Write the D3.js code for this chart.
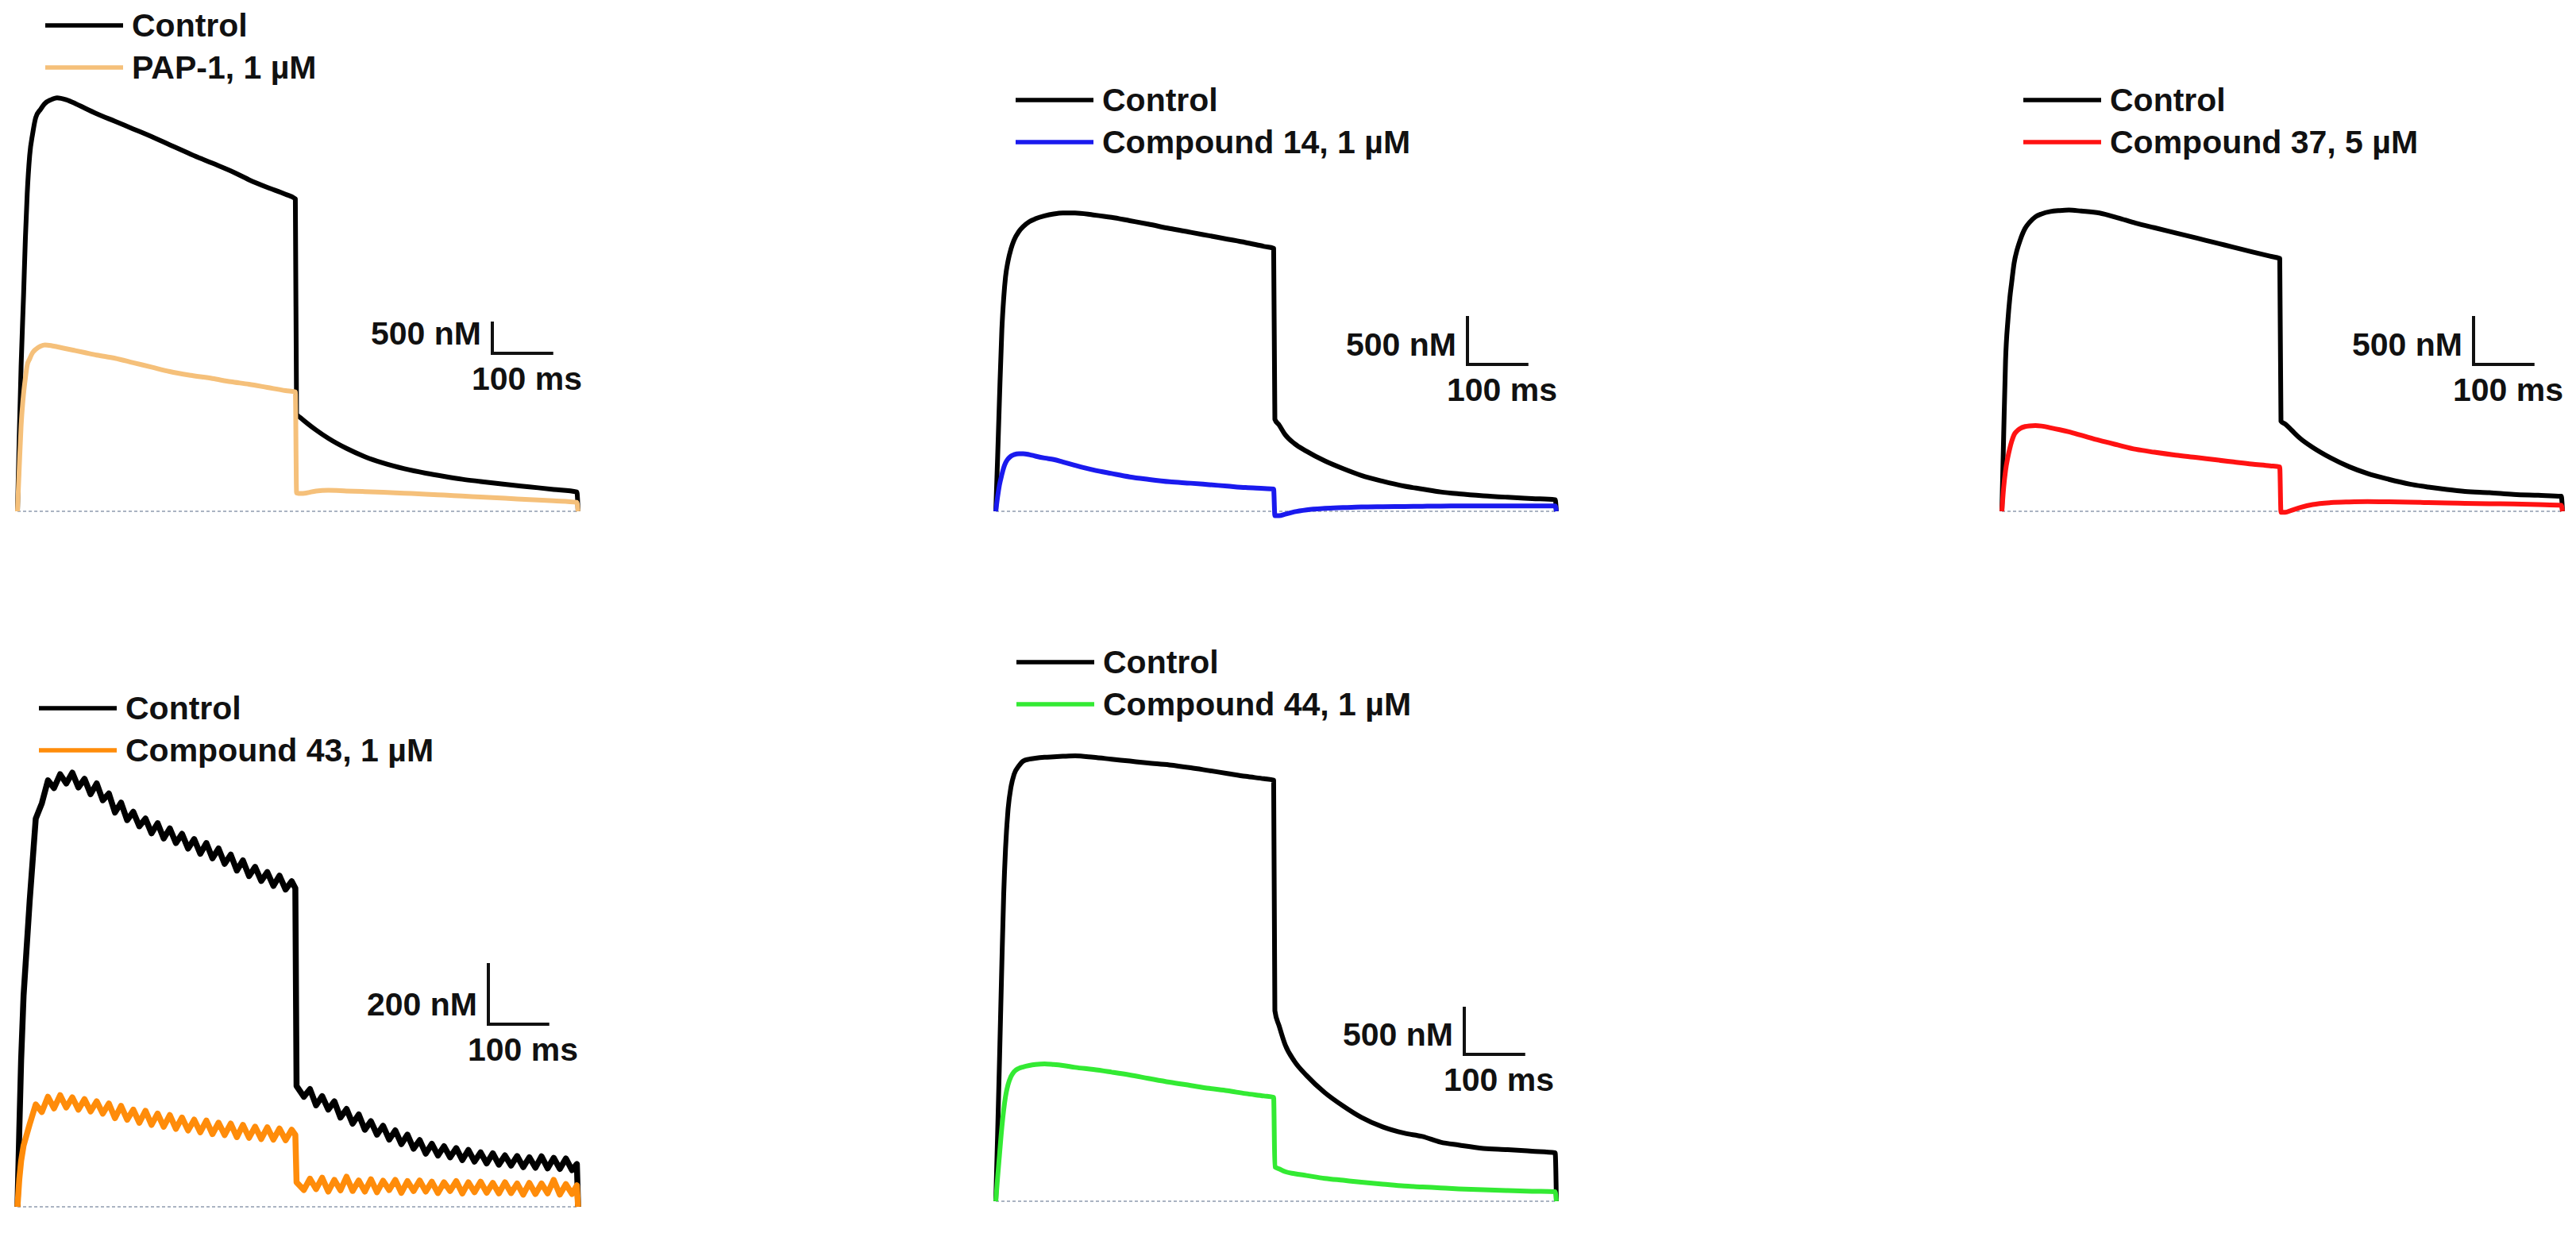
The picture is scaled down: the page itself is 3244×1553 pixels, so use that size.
<!DOCTYPE html>
<html>
<head>
<meta charset="utf-8" />
<title>Ca2+ traces</title>
<style>
* {
    padding: 0;
    margin: 0;
}
body {
    background: #fff;
}
#graph text {
    font-family: "Liberation Sans", Arial, sans-serif;
    font-weight: bold;
    font-size: 41px;
    fill: #111;
}
</style>
</head>
<body>
<div id="graph"></div>
<script src="https://cdn.jsdelivr.net/npm/d3@7"></script>
<script>
    // sample times (ms), shared by the smooth recordings
    var times = [0,3,6,10,13,16,20,25,30,38,45,55,65,80,95,110,130,160,190,220,
        250,285,320,350,380,410,440,456,458,465,475,490,510,540,570,600,635,670,700,730,
        760,800,840,880,918,920]

    // panel 4 is noisy, so it is read at a finer step
    var times4 = [0,3,6,10,20,30,40,50,60,70,80,90,100,110,120,130,140,150,160,170,
        180,190,200,210,220,230,240,250,260,270,280,290,300,310,320,330,340,350,360,370,
        380,390,400,410,420,430,440,450,456,458,470,480,490,500,510,520,530,540,550,560,
        570,580,590,600,610,620,630,640,650,660,670,680,690,700,710,720,730,740,750,760,
        770,780,790,800,810,820,830,840,850,860,870,880,890,900,910,918,920]

    // [Ca2+] in nM
    var ctrl1 = [0,1200,2300,3400,4300,5000,5600,5950,6200,6330,6420,6480,6510,6480,6420,6350,6260,6140,6020,5900,
        5770,5620,5480,5360,5220,5100,4990,4920,1530,1470,1390,1280,1150,990,860,760,670,600,550,505,
        470,425,385,345,305,0]
    var pap1 = [0,700,1350,1850,2100,2300,2400,2500,2550,2600,2620,2610,2590,2560,2530,2500,2460,2410,2340,2270,
        2200,2140,2090,2040,2000,1950,1900,1880,290,280,290,320,330,320,310,300,285,270,255,240,
        225,205,185,165,140,0]

    var ctrl2 = [0,550,1150,1880,2200,2420,2580,2710,2800,2890,2940,2990,3020,3050,3070,3080,3080,3060,3035,3000,
        2965,2920,2880,2845,2810,2775,2735,2715,950,890,790,700,620,520,440,370,310,260,230,200,
        180,160,145,132,120,0]
    var cmp14 = [0,150,270,380,450,500,540,570,585,595,595,585,570,550,535,510,475,427,390,355,
        330,305,290,275,260,245,235,229,-45,-45,-30,-5,15,30,38,45,48,50,52,54,
        55,55,55,55,55,0]

    var ctrl3 = [0,800,1550,1980,2200,2360,2560,2700,2800,2920,2980,3040,3070,3095,3105,3110,3100,3080,3030,2975,
        2928,2874,2820,2773,2727,2680,2634,2610,930,900,840,750,660,550,460,390,330,280,250,225,
        205,192,175,165,155,0]
    var cmp37 = [0,250,420,565,650,720,790,830,855,875,882,885,880,862,842,820,785,732,685,640,
        610,580,555,532,510,488,470,458,-10,-10,10,40,70,90,97,100,98,94,90,86,
        82,78,76,70,62,0]

    var ctrl4 = [0,250,480,690,1000,1270,1320,1395,1370,1415,1385,1420,1372,1400,1350,1385,1330,1352,1290,1322,
        1265,1292,1245,1270,1222,1255,1205,1238,1190,1220,1172,1203,1155,1190,1140,1172,1122,1152,1100,1133,
        1082,1112,1066,1095,1050,1083,1038,1065,1042,395,360,385,332,362,318,345,292,320,272,302,
        252,280,236,265,220,250,205,236,190,218,174,206,168,198,162,192,153,186,148,178,
        142,175,138,168,135,166,130,162,128,165,126,160,124,158,120,140,0]
    var cmp43 = [0,90,150,200,270,335,310,360,322,365,325,358,318,352,312,345,305,338,290,330,
        285,318,275,314,268,305,262,300,255,292,250,285,244,282,238,275,235,272,228,268,
        226,262,222,260,220,256,218,252,235,80,55,92,58,95,50,88,54,98,52,86,
        50,90,48,85,55,88,46,84,52,86,50,82,45,80,52,84,44,80,48,82,
        46,78,44,80,45,76,40,78,42,76,44,88,40,74,42,70,0]

    var ctrl5 = [0,700,1450,2500,3220,3700,4100,4350,4480,4570,4620,4640,4650,4660,4665,4670,4675,4660,4640,4620,
        4600,4580,4550,4520,4490,4460,4435,4420,2000,1840,1640,1470,1320,1140,1000,880,780,715,680,620,
        590,555,542,525,508,0]
    var cmp44 = [0,250,480,780,960,1100,1220,1310,1360,1395,1410,1425,1435,1442,1435,1425,1405,1383,1355,1325,
        1290,1250,1215,1185,1160,1130,1105,1090,360,340,310,290,270,240,220,200,180,160,150,140,
        130,120,112,105,100,0]

    var svg = d3.select("#graph").append("svg")
        .attr("width", 3244)
        .attr("height", 1553)

    var panels = [
        {t: times, data: [ctrl1, pap1], names: ["Control", "PAP-1, 1 µM"], colors: ["#000", "#f5c07a"],
         barNM: 500, x0: 22, y0: 644, yPx: 40, legX: 57, legY: 32, barX: 620, barY: 445, curve: d3.curveMonotoneX, sw: 6},
        {t: times, data: [ctrl2, cmp14], names: ["Control", "Compound 14, 1 µM"], colors: ["#000", "#1a1aee"],
         barNM: 500, x0: 1254, y0: 644, yPx: 61, legX: 1279, legY: 126, barX: 1848, barY: 459, curve: d3.curveMonotoneX, sw: 6},
        {t: times, data: [ctrl3, cmp37], names: ["Control", "Compound 37, 5 µM"], colors: ["#000", "#ff1212"],
         barNM: 500, x0: 2521, y0: 644, yPx: 61, legX: 2548, legY: 126, barX: 3115, barY: 459, curve: d3.curveMonotoneX, sw: 6},
        {t: times4, data: [ctrl4, cmp43], names: ["Control", "Compound 43, 1 µM"], colors: ["#000", "#ff8c0a"],
         barNM: 200, x0: 22, y0: 1520, yPx: 77, legX: 49, legY: 892, barX: 615, barY: 1290, curve: d3.curveLinear, sw: 7.5},
        {t: times, data: [ctrl5, cmp44], names: ["Control", "Compound 44, 1 µM"], colors: ["#000", "#33ea33"],
         barNM: 500, x0: 1254, y0: 1513, yPx: 60, legX: 1280, legY: 834, barX: 1844, barY: 1328, curve: d3.curveMonotoneX, sw: 6}
    ]

    panels.forEach(drawPanel)

    function drawPanel(p) {
        var x = d3.scaleLinear().domain([0, 920]).range([p.x0, p.x0 + 706])
        var y = d3.scaleLinear().domain([0, p.barNM]).range([p.y0, p.y0 - p.yPx])
        var g = svg.append("g")

        // dotted zero line
        g.append("line")
            .attr("x1", x(0)).attr("x2", x(920))
            .attr("y1", y(0)).attr("y2", y(0))
            .attr("stroke", "#aab3c2")
            .attr("stroke-width", 2)
            .attr("stroke-dasharray", "4,3")

        var line = d3.line()
            .x(function(d) { return x(d[0]) })
            .y(function(d) { return y(d[1]) })
            .curve(p.curve)

        p.data.forEach(function(vals, i) {
            g.append("path")
                .datum(d3.zip(p.t, vals))
                .attr("d", line)
                .attr("fill", "none")
                .attr("stroke", p.colors[i])
                .attr("stroke-width", p.sw)
                .attr("stroke-linejoin", "round")
        })

        // legend
        p.names.forEach(function(name, i) {
            var ly = p.legY + i * 53
            g.append("line")
                .attr("x1", p.legX).attr("x2", p.legX + 98)
                .attr("y1", ly).attr("y2", ly)
                .attr("stroke", p.colors[i])
                .attr("stroke-width", 5.5)
            g.append("text")
                .attr("x", p.legX + 109)
                .attr("y", ly + 14)
                .text(name)
        })

        // scale bar
        var bh = y(0) - y(p.barNM)
        var bw = x(100) - x(0)
        g.append("path")
            .attr("d", "M" + p.barX + "," + (p.barY - bh) + "V" + p.barY + "H" + (p.barX + bw))
            .attr("fill", "none")
            .attr("stroke", "#111")
            .attr("stroke-width", 4)
        g.append("text")
            .attr("x", p.barX - 14)
            .attr("y", p.barY - 11)
            .attr("text-anchor", "end")
            .text(p.barNM + " nM")
        g.append("text")
            .attr("x", p.barX - 26)
            .attr("y", p.barY + 46)
            .text("100 ms")
    }
</script>
</body>
</html>
